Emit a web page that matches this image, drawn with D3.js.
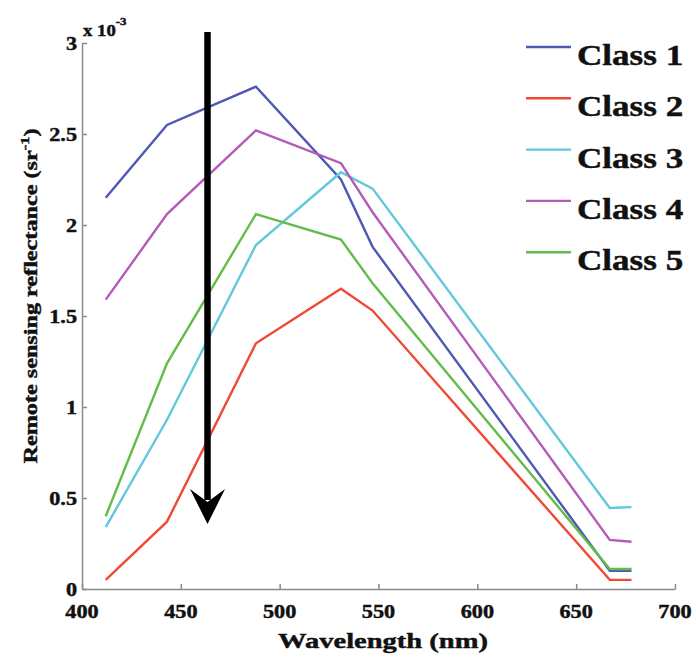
<!DOCTYPE html>
<html>
<head>
<meta charset="utf-8">
<script src="https://cdn.jsdelivr.net/npm/d3@7"></script>
<style>
  html, body { margin: 0; padding: 0; background: #fff; }
  svg { display: block; }
  text { font-family: "Liberation Serif", "Times New Roman", serif; font-weight: bold; fill: #111; stroke: #111; stroke-width: 0.45px; }
</style>
</head>
<body>
<svg id="chart" width="696" height="665"></svg>
<script>
// Wavelengths of the sensor bands (nm)
const wavelengths = [412, 443, 488, 531, 547, 667, 678];

// Remote sensing reflectance per class, in units of 1e-3 sr^-1
const class1 = [2.15, 2.55, 2.76, 2.25, 1.88, 0.10, 0.10];
const class2 = [0.05, 0.37, 1.35, 1.65, 1.53, 0.05, 0.05];
const class3 = [0.34, 0.93, 1.89, 2.29, 2.20, 0.445, 0.45];
const class4 = [1.59, 2.06, 2.52, 2.34, 2.07, 0.27, 0.26];
const class5 = [0.40, 1.24, 2.06, 1.92, 1.68, 0.11, 0.11];

const seriesNames = ["Class 1", "Class 2", "Class 3", "Class 4", "Class 5"];
const seriesValues = [class1, class2, class3, class4, class5];
const seriesColors = ["#4f58b4", "#f04a36", "#62c8dc", "#b45ab9", "#62bd48"];

const xTicks = [400, 450, 500, 550, 600, 650, 700];
const yTicks = [0, 0.5, 1, 1.5, 2, 2.5, 3];

// Downward trend arrow (wavelength, top and tip reflectance)
const arrowWavelength = 463.5;
const arrowTop = 3.06;
const arrowTip = 0.357;

const svg = d3.select("#chart");
const stretch = 1.17;   // horizontal widening of the lettering

const x = d3.scaleLinear().domain([400, 700]).range([82, 675]);
const y = d3.scaleLinear().domain([0, 3]).range([589, 43]);

const axisColor = "#8a8a8a";

// Axes: left and bottom only, ticks pointing inward
const xAxis = svg.append("g")
  .attr("transform", `translate(0,${y(0)})`)
  .call(d3.axisBottom(x).tickValues(xTicks).tickSizeInner(-5).tickSizeOuter(0).tickFormat(""));
const yAxis = svg.append("g")
  .attr("transform", `translate(${x(400)},0)`)
  .call(d3.axisLeft(y).tickValues(yTicks).tickSizeInner(-5).tickSizeOuter(0).tickFormat(""));
[xAxis, yAxis].forEach(a => {
  a.selectAll("path.domain").attr("stroke", axisColor).attr("stroke-width", 1.5);
  a.selectAll(".tick line").attr("stroke", axisColor).attr("stroke-width", 1.5);
});

// Tick labels (widened lettering)
function stretchedText(parent, px, py, str, size, anchor) {
  const g = parent.append("g").attr("transform", `translate(${px},${py}) scale(${stretch},1)`);
  return g.append("text").attr("x", 0).attr("y", 0)
    .attr("font-size", size).attr("text-anchor", anchor).text(str);
}
xTicks.forEach(t => stretchedText(svg, x(t), 618, d3.format("d")(t), 19, "middle"));
yTicks.forEach(t => stretchedText(svg, 77, y(t) + 6.5, d3.format("")(t), 19, "end"));

// Exponent note above the y axis
const expo = svg.append("g").attr("transform", `translate(83,36) scale(${stretch},1)`);
const expoText = expo.append("text").attr("font-size", 16);
expoText.append("tspan").text("x 10");
expoText.append("tspan").attr("font-size", 11).attr("dy", -11).text("-3");

// Axis titles
svg.append("text")
  .attr("x", 383).attr("y", 648)
  .attr("font-size", 22).attr("text-anchor", "middle")
  .attr("textLength", 210).attr("lengthAdjust", "spacingAndGlyphs")
  .text("Wavelength (nm)");

const yTitle = svg.append("text")
  .attr("transform", `translate(37,296) rotate(-90)`)
  .attr("font-size", 19).attr("text-anchor", "middle")
  .attr("textLength", 335).attr("lengthAdjust", "spacingAndGlyphs");
yTitle.append("tspan").text("Remote sensing reflectance (sr");
yTitle.append("tspan").attr("font-size", 13).attr("dy", -8).text("-1");
yTitle.append("tspan").attr("dy", 8).text(")");

// Reflectance curves
const line = d3.line().x(d => x(d[0])).y(d => y(d[1]));
seriesValues.forEach((vals, i) => {
  svg.append("path")
    .datum(wavelengths.map((w, j) => [w, vals[j]]))
    .attr("d", line)
    .attr("fill", "none")
    .attr("stroke", seriesColors[i])
    .attr("stroke-width", 2.4)
    .attr("stroke-linejoin", "miter");
});

// Trend arrow
const ax = x(arrowWavelength);
const tipY = y(arrowTip);
svg.append("line")
  .attr("x1", ax).attr("x2", ax)
  .attr("y1", y(arrowTop)).attr("y2", tipY - 24)
  .attr("stroke", "#000").attr("stroke-width", 6.5);
svg.append("path")
  .attr("d", `M${ax},${tipY} L${ax + 17.5},${tipY - 35} L${ax},${tipY - 22} L${ax - 17.5},${tipY - 35} Z`)
  .attr("fill", "#000");

// Legend
const legend = svg.append("g");
seriesNames.forEach((name, i) => {
  const ly = 47 + i * 51.3;
  legend.append("line")
    .attr("x1", 526).attr("x2", 571).attr("y1", ly).attr("y2", ly)
    .attr("stroke", seriesColors[i]).attr("stroke-width", 2.4);
  stretchedText(legend, 577, ly + 18, name, 30, "start");
});
</script>
</body>
</html>
